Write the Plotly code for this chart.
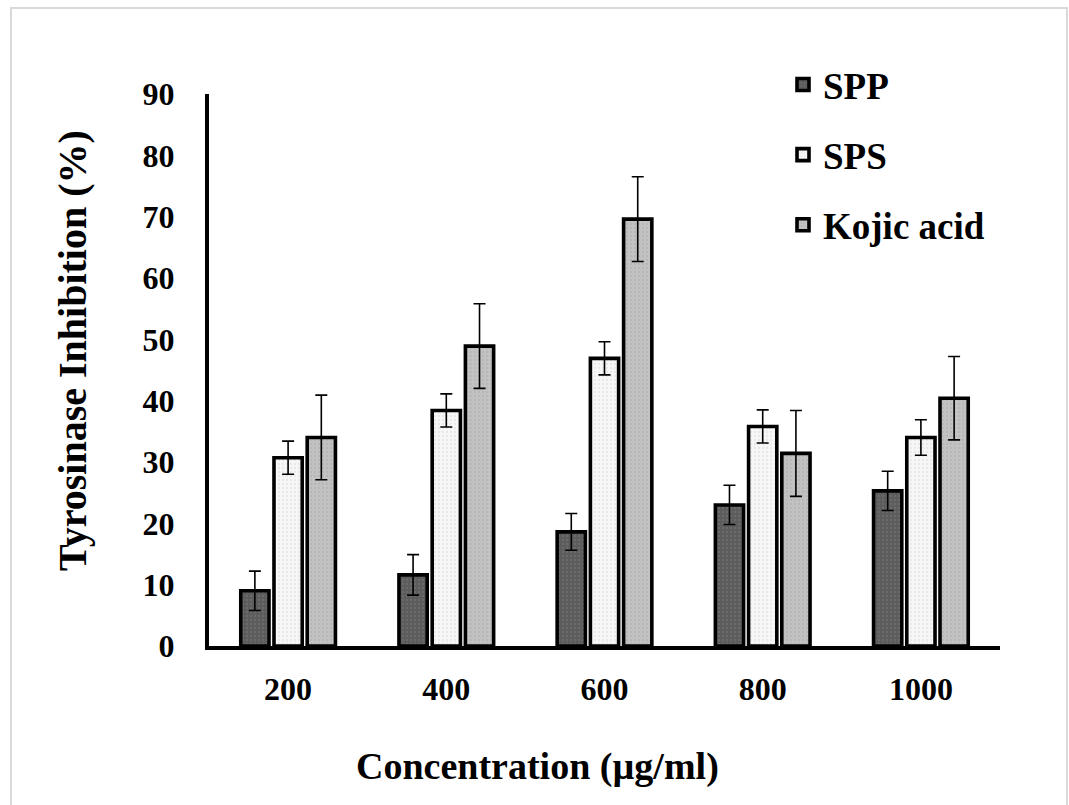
import plotly.graph_objects as go

categories = ["200", "400", "600", "800", "1000"]
spp = [9.0, 11.6, 18.6, 23.0, 25.3]
spp_err = [3.2, 3.3, 3.0, 3.2, 3.2]
sps = [30.7, 38.4, 46.9, 35.8, 34.0]
sps_err = [2.7, 2.7, 2.7, 2.7, 2.9]
kojic = [34.0, 48.9, 69.6, 31.4, 40.4]
kojic_err = [6.9, 6.9, 6.9, 7.0, 6.8]
y_ticks = [0, 10, 20, 30, 40, 50, 60, 70, 80, 90]

FONT = "Liberation Serif"

series = [
    ("SPP", spp, spp_err, "#5c5c5c", "#7a7a7a"),
    ("SPS", sps, sps_err, "#f7f7f7", "#d8d8d8"),
    ("Kojic acid", kojic, kojic_err, "#c2c2c2", "#a9a9a9"),
]

fig = go.Figure()
for name, vals, errs, bg, fg in series:
    fig.add_trace(go.Bar(
        name=name, x=categories, y=vals, legendgroup=name,
        marker=dict(color=bg, line=dict(color="black", width=3.6),
                    pattern=dict(shape=".", size=4, solidity=0.25, fgcolor=fg, bgcolor=bg)),
        error_y=dict(type="data", array=errs, visible=True, color="black", thickness=1.6, width=6),
    ))

W, H = 1069, 805
L, R, T, B = 209, 69, 94, 159
pw, ph = W - L - R, H - T - B

def px(x):
    return (x - L) / pw

def py(y):
    return (H - B - y) / ph

fig.update_layout(
    width=W, height=H,
    margin=dict(l=L, r=R, t=T, b=B),
    paper_bgcolor="white", plot_bgcolor="white",
    barmode="group", bargap=0.37, bargroupgap=0.15,
    font=dict(family=FONT, color="black", weight="bold"),
    showlegend=True,
    legend=dict(x=px(783), y=py(54), xanchor="left", yanchor="top",
                font=dict(family=FONT, size=37, color="black", weight="bold"),
                traceorder="grouped", tracegroupgap=19, bgcolor="rgba(0,0,0,0)"),
    xaxis=dict(type="category", range=[-0.5, 4.5], showline=True, linecolor="black", linewidth=4,
               ticks="", showgrid=False, zeroline=False,
               tickfont=dict(family=FONT, size=32, color="black", weight="bold"),
               ticklabelstandoff=12),
    yaxis=dict(range=[0, 90], tickvals=y_ticks, showline=True, linecolor="black", linewidth=4,
               ticks="", showgrid=False, zeroline=False,
               tickfont=dict(family=FONT, size=32, color="black", weight="bold"),
               ticklabelstandoff=24),
    annotations=[
        dict(text="Tyrosinase Inhibition (%)", xref="paper", yref="paper", x=px(72), y=py(351),
             xanchor="center", yanchor="middle", textangle=-90, showarrow=False,
             font=dict(family=FONT, size=40, color="black", weight="bold")),
        dict(text="Concentration (µg/ml)", xref="paper", yref="paper", x=px(537), y=py(766),
             xanchor="center", yanchor="middle", showarrow=False,
             font=dict(family=FONT, size=38, color="black", weight="bold")),
    ],
    shapes=[dict(type="rect", xref="paper", yref="paper", x0=px(11), x1=px(1067), y0=py(815), y1=py(8),
                 line=dict(color="#d9d9d9", width=2), fillcolor="rgba(0,0,0,0)", layer="below")],
)

fig.write_html("out.html")
